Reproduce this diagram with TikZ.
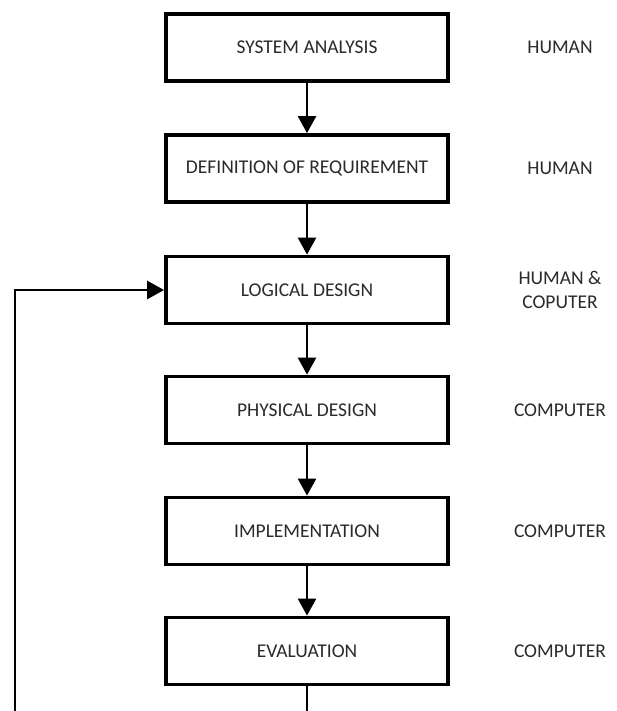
\documentclass[tikz,border=0pt]{standalone}
\usepackage{fontspec}
\setmainfont{Carlito}
\usetikzlibrary{arrows.meta}
\definecolor{txt}{HTML}{2A2A2A}
\tikzset{
  stepbox/.style={draw=black, line width=3.8pt, minimum width=282pt, minimum height=67pt, inner sep=0pt,
    text=txt, font=\fontsize{19.5}{24}\selectfont},
  sidelabel/.style={text=txt, font=\fontsize{19.5}{24}\selectfont, align=center, inner sep=0pt},
  flow/.style={draw=black, line width=2.6pt, -{Triangle[length=17pt,width=18pt]}},
  plain/.style={draw=black, line width=2.6pt}
}
\begin{document}
\begin{tikzpicture}[x=1pt,y=-1pt]
\clip (0,0) rectangle (616,711);
\fill[white] (0,0) rectangle (616,711);
\node[stepbox] (sa) at (307,47.5) {SYSTEM ANALYSIS};
\node[stepbox] (dr) at (307,168.5) {DEFINITION OF REQUIREMENT};
\node[stepbox] (ld) at (307,290) {LOGICAL DESIGN};
\node[stepbox] (pd) at (307,410) {PHYSICAL DESIGN};
\node[stepbox] (im) at (307,531) {IMPLEMENTATION};
\node[stepbox] (ev) at (307,651) {EVALUATION};
\node[sidelabel] (l1) at (560,47.5) {HUMAN};
\node[sidelabel] (l2) at (560,168.5) {HUMAN};
\node[sidelabel] (l3) at (560,290) {HUMAN \&\\COPUTER};
\node[sidelabel] (l4) at (560,410) {COMPUTER};
\node[sidelabel] (l5) at (560,531) {COMPUTER};
\node[sidelabel] (l6) at (560,651) {COMPUTER};
\draw[flow] (sa) -- (dr);
\draw[flow] (dr) -- (ld);
\draw[flow] (ld) -- (pd);
\draw[flow] (pd) -- (im);
\draw[flow] (im) -- (ev);
\coordinate (bl) at (15,730);
\coordinate (br) at (307,730);
\draw[flow] (ev.south) -- (br) -- (bl) |- (ld.west);
\end{tikzpicture}
\end{document}
